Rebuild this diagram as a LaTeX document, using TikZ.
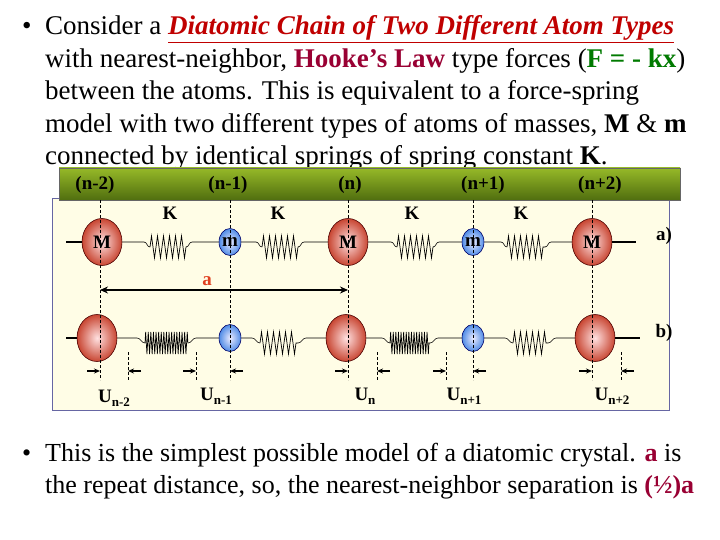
\documentclass[tikz,border=0pt]{standalone}
\usepackage{fontspec}
\setmainfont{Liberation Serif}
\usetikzlibrary{decorations.pathmorphing,arrows.meta,shapes.geometric}
\definecolor{dred}{HTML}{C00000}
\definecolor{maroon}{HTML}{990033}
\definecolor{fgreen}{HTML}{007A00}
\definecolor{aorange}{HTML}{E04020}
\definecolor{beige}{HTML}{FFFDE6}
\newcommand{\usub}[1]{U\raisebox{-0.45ex}{\fontsize{13}{14}\selectfont #1}}
\tikzset{
  txt/.style={anchor=base west,inner sep=0pt,font=\fontsize{27}{30}\selectfont},
  txtb/.style={anchor=base west,inner sep=0pt,font=\fontsize{26}{30}\selectfont},
  lab/.style={inner sep=0pt,font=\fontsize{19}{21}\selectfont\bfseries},
  bigball/.style={ellipse,minimum width=40pt,minimum height=47pt,inner sep=0pt,draw=black!70!red,line width=0.6pt,inner color=red!12!white,outer color={rgb,255:red,200;green,70;blue,50}},
  smallball/.style={ellipse,minimum width=22pt,minimum height=27pt,inner sep=0pt,draw=blue!40!black,line width=0.6pt,inner color=blue!8!white,outer color={rgb,255:red,80;green,140;blue,230}},
  wire/.style={line width=0.6pt},
  endbar/.style={line width=2.4pt},
  zz/.style={line width=0.7pt,decorate,decoration={zigzag,segment length=6pt,amplitude=11pt}},
  zzc/.style={line width=0.7pt,decorate,decoration={zigzag,segment length=2.6pt,amplitude=11pt}},
  vdash/.style={dashed,dash pattern=on 3pt off 2pt,line width=0.6pt},
  uarr/.style={-{Stealth[length=6pt,width=5pt]},line width=1.2pt},
}
\begin{document}
\begin{tikzpicture}[x=1pt,y=-1pt]
\useasboundingbox (0,0) rectangle (720,540);
\fill[white] (0,0) rectangle (720,540);
% top text
\node[txt] (b1) at (22,35) {•};
\node[txt] (t1) at (45,35) {Consider a {\color{dred}\bfseries\itshape\underline{Diatomic Chain of Two Different Atom Types}}};
\node[txt] (t2) at (45,68) {with nearest-neighbor, {\color{maroon}\bfseries Hooke’s Law} type forces ({\color{fgreen}\bfseries F = - kx})};
\node[txt] (t3) at (45,100) {between the atoms. This is equivalent to a force-spring};
\node[txt] (t4) at (45,133) {model with two different types of atoms of masses, \textbf{M} \& \textbf{m}};
\node[txt] (t5) at (45,165) {connected by identical springs of spring constant \textbf{K}.};
% boxes
\draw[fill=beige,draw=black!60!blue!60,line width=0.8pt] (52,198) rectangle (669,410);
\shade[top color={rgb,255:red,150;green,185;blue,40},bottom color={rgb,255:red,80;green,110;blue,15}] (59,168) rectangle (680,200);
\draw[black!60,line width=0.6pt] (59,168) rectangle (680,200);
\foreach \x/\t in {95/(n-2),228/(n-1),350/(n),483/(n+1),600/(n+2)}
  \node[lab] at (\x,185) {\t};
% row a
\node[bigball] (a1) at (102,242) {};
\node[smallball] (a2) at (230,242) {};
\node[bigball] (a3) at (348,242) {};
\node[smallball] (a4) at (473,242) {};
\node[bigball] (a5) at (592,242) {};
\coordinate (ca0) at (66,242); \coordinate (ca6) at (636,242);
\draw[endbar] (ca0) -- (a1.west); \draw[endbar] (a5.east) -- (ca6);
\foreach \p/\q/\s/\e in {a1/a2/150/186,a2/a3/262/298,a3/a4/397/433,a4/a5/507/545}{
  \draw[wire] (\p.east) -- (\s-6,242) to[out=0,in=180] (\s,247);
  \draw[zz] (\s,247) -- (\e,247);
  \draw[wire] (\e,247) to[out=0,in=180] (\e+6,242) -- (\q.west);
}
\foreach \x in {170,278,412,521} \node[lab] at (\x,213) {K};
\node[lab] at (664,236) {a)};
% row b
\node[bigball] (b1) at (97,338) {};
\node[smallball] (b2) at (230,338) {};
\node[bigball] (b3) at (346,338) {};
\node[smallball] (b4) at (473,338) {};
\node[bigball] (b5) at (595,338) {};
\coordinate (cb0) at (66,338); \coordinate (cb6) at (640,338);
\draw[endbar] (cb0) -- (b1.west); \draw[endbar] (b5.east) -- (cb6);
\foreach \p/\q/\s/\e/\st in {b1/b2/145/188/zzc,b2/b3/260/298/zz,b3/b4/390/430/zzc,b4/b5/513/548/zz}{
  \draw[wire] (\p.east) -- (\s-8,338) to[out=0,in=180] (\s,343);
  \draw[\st] (\s,343) -- (\e,343);
  \draw[wire] (\e,343) to[out=0,in=180] (\e+8,338) -- (\q.west);
}
\node[lab] at (664,333) {b)};
% vertical dashed lines
\foreach \x in {100,230,348,473,592} \draw[vdash] (\x,200) -- (\x,380);
\foreach \x in {128,196,377,446,621} \draw[vdash] (\x,352) -- (\x,380);
\node[lab] at (a1) {M};\node[lab] at (a2) {m};\node[lab] at (a3) {M};\node[lab] at (a4) {m};\node[lab] at (a5) {M};
% a arrow
\draw[{Stealth[length=8pt,width=7pt]}-{Stealth[length=8pt,width=7pt]},line width=1.8pt] (100,290) -- (348,290);
\node[lab,text=aorange] at (207,281) {a};
% displacement arrows
\foreach \x in {100,196,348,446,592} \draw[uarr] (\x-13,371) -- (\x,371);
\foreach \x in {128,230,377,473,621} \draw[uarr] (\x+13,371) -- (\x,371);
\node[lab] at (114,398) {\usub{n-2}};
\node[lab] at (216,396) {\usub{n-1}};
\node[lab] at (365,396) {\usub{n}};
\node[lab] at (464,396) {\usub{n+1}};
\node[lab] at (612,396) {\usub{n+2}};
% bottom text
\node[txtb] (b2t) at (22,461) {•};
\node[txtb] (t6) at (45,461) {This is the simplest possible model of a diatomic crystal. {\color{maroon}\bfseries a} is};
\node[txtb] (t7) at (45,493) {the repeat distance, so, the nearest-neighbor separation is {\color{maroon}\bfseries (½)a}};
\end{tikzpicture}
\end{document}
